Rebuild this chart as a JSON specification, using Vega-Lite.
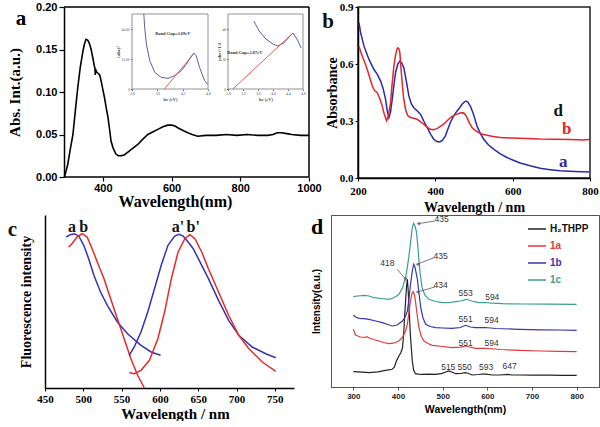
{
  "$schema": "https://vega.github.io/schema/vega-lite/v6.json",
  "padding": {"left": 7, "top": 0, "right": 0, "bottom": 0},
  "background": "white",
  "config": {"axis": {"grid": false, "labelFlush": false, "labelOverlap": false, "domainColor": "black", "tickColor": "black", "labelColor": "black", "titleColor": "black"}},
  "datasets": {
    "a": [
      {"wl":288,"v":0.0},{"wl":291,"v":0.004},{"wl":298,"v":0.015},{"wl":305,"v":0.032},{"wl":313,"v":0.05},{"wl":320,"v":0.078},{"wl":327,"v":0.105},{"wl":334,"v":0.128},{"wl":342,"v":0.148},{"wl":347,"v":0.157},{"wl":351,"v":0.162},{"wl":356,"v":0.161},{"wl":361,"v":0.157},{"wl":366,"v":0.15},{"wl":371,"v":0.14},{"wl":375,"v":0.131},{"wl":377,"v":0.128},{"wl":378,"v":0.12},{"wl":379,"v":0.127},{"wl":381,"v":0.124},{"wl":386,"v":0.122},{"wl":391,"v":0.12},{"wl":395,"v":0.113},{"wl":400,"v":0.103},{"wl":405,"v":0.093},{"wl":410,"v":0.081},{"wl":415,"v":0.07},{"wl":420,"v":0.055},{"wl":424,"v":0.042},{"wl":430,"v":0.034},{"wl":438,"v":0.027},{"wl":445,"v":0.025},{"wl":453,"v":0.025},{"wl":462,"v":0.026},{"wl":472,"v":0.029},{"wl":485,"v":0.033},{"wl":501,"v":0.038},{"wl":515,"v":0.044},{"wl":531,"v":0.05},{"wl":545,"v":0.053},{"wl":560,"v":0.056},{"wl":575,"v":0.059},{"wl":589,"v":0.061},{"wl":600,"v":0.061},{"wl":610,"v":0.06},{"wl":618,"v":0.058},{"wl":632,"v":0.055},{"wl":647,"v":0.052},{"wl":660,"v":0.05},{"wl":676,"v":0.048},{"wl":700,"v":0.049},{"wl":730,"v":0.049},{"wl":760,"v":0.05},{"wl":790,"v":0.049},{"wl":820,"v":0.05},{"wl":850,"v":0.049},{"wl":880,"v":0.049},{"wl":895,"v":0.05},{"wl":908,"v":0.052},{"wl":920,"v":0.052},{"wl":935,"v":0.051},{"wl":950,"v":0.05},{"wl":975,"v":0.049},{"wl":1000,"v":0.049}
    ],
    "alab": [{"t":"a","wl":162,"v":0.1788}],
    "aframe": [
      {"x1":287,"y1":0.2,"x2":1000,"y2":0.2},{"x1":1000,"y1":0,"x2":1000,"y2":0.2},{"x1":287,"y1":0,"x2":1000,"y2":0}
    ],
    "in1c": [
      {"e":3.28,"y":5.0},{"e":3.30,"y":4.11},{"e":3.34,"y":3.0},{"e":3.42,"y":1.89},{"e":3.54,"y":1.11},{"e":3.69,"y":0.78},{"e":3.85,"y":0.71},{"e":4.01,"y":0.89},{"e":4.17,"y":1.22},{"e":4.29,"y":1.67},{"e":4.41,"y":2.22},{"e":4.47,"y":2.38},{"e":4.52,"y":2.22},{"e":4.60,"y":1.44},{"e":4.72,"y":0.56},{"e":4.8,"y":0.29}
    ],
    "in1t": [{"e":3.77,"y":0},{"e":4.47,"y":2.38}],
    "in1f": [{"x1":3.0,"x2":4.8,"y1":0,"y2":5}],
    "in1x": [{"t":"Band Gap=3.69eV","e":3.97,"y":3.67}],
    "in2c": [
      {"e":3.49,"y":45.3},{"e":3.63,"y":38.7},{"e":3.81,"y":33.3},{"e":4.0,"y":30},{"e":4.13,"y":28.7},{"e":4.29,"y":30.7},{"e":4.43,"y":34.7},{"e":4.53,"y":37.3},{"e":4.64,"y":33.3},{"e":4.75,"y":27.3}
    ],
    "in2t": [{"e":2.93,"y":0},{"e":4.53,"y":37.3}],
    "in2f": [{"x1":2.8,"x2":4.8,"y1":0,"y2":50}],
    "in2x": [{"t":"Band Gap=2.87eV","e":3.25,"y":24}],
    "b": [
      {"s":"a","wl":202.6,"v":0.816},{"s":"a","wl":206.9,"v":0.764},{"s":"a","wl":215.5,"v":0.694},{"s":"a","wl":228.4,"v":0.624},{"s":"a","wl":241.3,"v":0.571},{"s":"a","wl":250,"v":0.545},{"s":"a","wl":258.5,"v":0.51},{"s":"a","wl":265,"v":0.47},{"s":"a","wl":271.3,"v":0.414},{"s":"a","wl":276,"v":0.35},{"s":"a","wl":279.9,"v":0.318},{"s":"a","wl":284,"v":0.345},{"s":"a","wl":288.5,"v":0.414},{"s":"a","wl":293,"v":0.49},{"s":"a","wl":297.1,"v":0.554},{"s":"a","wl":303,"v":0.6},{"s":"a","wl":308.3,"v":0.615},{"s":"a","wl":313,"v":0.605},{"s":"a","wl":318.6,"v":0.58},{"s":"a","wl":325,"v":0.51},{"s":"a","wl":331.5,"v":0.432},{"s":"a","wl":338,"v":0.39},{"s":"a","wl":344.4,"v":0.37},{"s":"a","wl":352,"v":0.355},{"s":"a","wl":361.6,"v":0.336},{"s":"a","wl":370,"v":0.3},{"s":"a","wl":378.8,"v":0.266},{"s":"a","wl":388,"v":0.23},{"s":"a","wl":396,"v":0.204},{"s":"a","wl":404,"v":0.192},{"s":"a","wl":411.5,"v":0.19},{"s":"a","wl":418,"v":0.198},{"s":"a","wl":426.1,"v":0.222},{"s":"a","wl":432,"v":0.255},{"s":"a","wl":439,"v":0.292},{"s":"a","wl":447,"v":0.325},{"s":"a","wl":456.2,"v":0.353},{"s":"a","wl":463,"v":0.37},{"s":"a","wl":469.1,"v":0.388},{"s":"a","wl":475,"v":0.4},{"s":"a","wl":479.4,"v":0.405},{"s":"a","wl":484,"v":0.4},{"s":"a","wl":490.5,"v":0.379},{"s":"a","wl":498,"v":0.34},{"s":"a","wl":507.7,"v":0.274},{"s":"a","wl":515,"v":0.24},{"s":"a","wl":525,"v":0.204},{"s":"a","wl":537,"v":0.175},{"s":"a","wl":550.7,"v":0.152},{"s":"a","wl":567,"v":0.128},{"s":"a","wl":585.1,"v":0.108},{"s":"a","wl":600,"v":0.095},{"s":"a","wl":619.5,"v":0.079},{"s":"a","wl":645,"v":0.064},{"s":"a","wl":671.1,"v":0.051},{"s":"a","wl":697,"v":0.044},{"s":"a","wl":722.6,"v":0.038},{"s":"a","wl":760,"v":0.034},{"s":"a","wl":798,"v":0.031},
      {"s":"b","wl":202.6,"v":0.694},{"s":"b","wl":206.9,"v":0.665},{"s":"b","wl":211.2,"v":0.641},{"s":"b","wl":218,"v":0.605},{"s":"b","wl":224.1,"v":0.571},{"s":"b","wl":230,"v":0.53},{"s":"b","wl":237,"v":0.484},{"s":"b","wl":243,"v":0.46},{"s":"b","wl":249.8,"v":0.449},{"s":"b","wl":256,"v":0.42},{"s":"b","wl":262.7,"v":0.379},{"s":"b","wl":268,"v":0.335},{"s":"b","wl":273.9,"v":0.301},{"s":"b","wl":279,"v":0.33},{"s":"b","wl":284.2,"v":0.397},{"s":"b","wl":288,"v":0.49},{"s":"b","wl":292.8,"v":0.589},{"s":"b","wl":297,"v":0.645},{"s":"b","wl":301,"v":0.68},{"s":"b","wl":303.2,"v":0.685},{"s":"b","wl":306,"v":0.68},{"s":"b","wl":308.3,"v":0.66},{"s":"b","wl":311,"v":0.58},{"s":"b","wl":314.3,"v":0.502},{"s":"b","wl":318,"v":0.42},{"s":"b","wl":322.9,"v":0.362},{"s":"b","wl":328,"v":0.33},{"s":"b","wl":335.8,"v":0.318},{"s":"b","wl":344,"v":0.314},{"s":"b","wl":353,"v":0.309},{"s":"b","wl":361,"v":0.297},{"s":"b","wl":370.2,"v":0.283},{"s":"b","wl":378,"v":0.268},{"s":"b","wl":387.4,"v":0.257},{"s":"b","wl":395,"v":0.254},{"s":"b","wl":404.6,"v":0.26},{"s":"b","wl":412,"v":0.27},{"s":"b","wl":421.8,"v":0.283},{"s":"b","wl":430,"v":0.3},{"s":"b","wl":439,"v":0.318},{"s":"b","wl":447,"v":0.328},{"s":"b","wl":456.2,"v":0.336},{"s":"b","wl":464,"v":0.342},{"s":"b","wl":471.6,"v":0.344},{"s":"b","wl":477,"v":0.335},{"s":"b","wl":482,"v":0.318},{"s":"b","wl":488,"v":0.29},{"s":"b","wl":494.8,"v":0.266},{"s":"b","wl":503,"v":0.25},{"s":"b","wl":512,"v":0.239},{"s":"b","wl":522,"v":0.23},{"s":"b","wl":533.5,"v":0.225},{"s":"b","wl":550,"v":0.218},{"s":"b","wl":567.8,"v":0.213},{"s":"b","wl":600,"v":0.21},{"s":"b","wl":636.7,"v":0.208},{"s":"b","wl":670,"v":0.205},{"s":"b","wl":705.4,"v":0.204},{"s":"b","wl":750,"v":0.203},{"s":"b","wl":780,"v":0.2},{"s":"b","wl":798,"v":0.203}
    ],
    "blab": [
      {"s":"d","t":"d","wl":718,"v":0.353},{"s":"b","t":"b","wl":740,"v":0.257},{"s":"a","t":"a","wl":731,"v":0.082},{"s":"d","t":"b","wl":122.4,"v":0.821,"panel":true}
    ],
    "c": [
      {"s":"a","wl":477.7,"v":151},{"s":"a","wl":483,"v":153.3},{"s":"a","wl":488.3,"v":154.3},{"s":"a","wl":494,"v":152},{"s":"a","wl":500.6,"v":142.7},{"s":"a","wl":507,"v":129.3},{"s":"a","wl":513.8,"v":112.7},{"s":"a","wl":522.5,"v":96},{"s":"a","wl":531.3,"v":82.7},{"s":"a","wl":544.5,"v":66},{"s":"a","wl":557.7,"v":54.3},{"s":"a","wl":575.3,"v":42.7},{"s":"a","wl":588.5,"v":36},{"s":"a","wl":600.8,"v":32.7},
      {"s":"b","wl":480.8,"v":141},{"s":"b","wl":485.2,"v":144.3},{"s":"b","wl":491.8,"v":151},{"s":"b","wl":498.4,"v":154.3},{"s":"b","wl":505,"v":151},{"s":"b","wl":511.6,"v":139.3},{"s":"b","wl":518.2,"v":126},{"s":"b","wl":527,"v":109.3},{"s":"b","wl":535.7,"v":89.3},{"s":"b","wl":544.5,"v":69.3},{"s":"b","wl":553.3,"v":49.3},{"s":"b","wl":562.1,"v":29.3},{"s":"b","wl":570.9,"v":12.7},{"s":"b","wl":579.7,"v":0},
      {"s":"a'","wl":559.9,"v":32.7},{"s":"a'","wl":566.5,"v":41},{"s":"a'","wl":575.3,"v":56},{"s":"a'","wl":584.1,"v":76},{"s":"a'","wl":592.9,"v":99.3},{"s":"a'","wl":601.7,"v":122.7},{"s":"a'","wl":610.5,"v":142.7},{"s":"a'","wl":619.3,"v":152},{"s":"a'","wl":625,"v":153.7},{"s":"a'","wl":630.3,"v":152},{"s":"a'","wl":636.9,"v":146},{"s":"a'","wl":643.5,"v":139.3},{"s":"a'","wl":650.1,"v":129.3},{"s":"a'","wl":663.3,"v":109.3},{"s":"a'","wl":676.5,"v":87.7},{"s":"a'","wl":689.7,"v":67.7},{"s":"a'","wl":702.9,"v":52.7},{"s":"a'","wl":720.5,"v":41},{"s":"a'","wl":738.1,"v":34.3},{"s":"a'","wl":751.2,"v":30.3},
      {"s":"b'","wl":559.9,"v":15.3},{"s":"b'","wl":566.5,"v":14.3},{"s":"b'","wl":575.3,"v":17.7},{"s":"b'","wl":586.3,"v":27.7},{"s":"b'","wl":597.3,"v":49.3},{"s":"b'","wl":606.1,"v":76},{"s":"b'","wl":614.9,"v":109.3},{"s":"b'","wl":623.7,"v":136},{"s":"b'","wl":632.5,"v":149.3},{"s":"b'","wl":639.1,"v":153.3},{"s":"b'","wl":645.7,"v":149.3},{"s":"b'","wl":654.5,"v":136},{"s":"b'","wl":663.3,"v":119.3},{"s":"b'","wl":676.5,"v":96},{"s":"b'","wl":689.7,"v":72.7},{"s":"b'","wl":702.9,"v":52.7},{"s":"b'","wl":716.1,"v":39.3},{"s":"b'","wl":733.7,"v":26},{"s":"b'","wl":751.2,"v":16.7}
    ],
    "clab": [
      {"t":"a","wl":485.2,"v":161,"sz":"m"},{"t":"b","wl":500.6,"v":161,"sz":"m"},{"t":"a'","wl":623.7,"v":161,"sz":"m"},{"t":"b'","wl":643.5,"v":161,"sz":"m"},{"t":"c","wl":407.6,"v":158,"sz":"L"}
    ],
    "d": [
      {"s":"H₂THPP","wl":300,"v":15.3},{"s":"H₂THPP","wl":320,"v":14.8},{"s":"H₂THPP","wl":335,"v":14.3},{"s":"H₂THPP","wl":355,"v":15.2},{"s":"H₂THPP","wl":372,"v":16.7},{"s":"H₂THPP","wl":387,"v":17.7},{"s":"H₂THPP","wl":392,"v":20},{"s":"H₂THPP","wl":396,"v":25.5},{"s":"H₂THPP","wl":402,"v":31},{"s":"H₂THPP","wl":406,"v":34},{"s":"H₂THPP","wl":410,"v":39},{"s":"H₂THPP","wl":413,"v":55},{"s":"H₂THPP","wl":415,"v":72},{"s":"H₂THPP","wl":417,"v":86},{"s":"H₂THPP","wl":419,"v":100},{"s":"H₂THPP","wl":421,"v":107.7},{"s":"H₂THPP","wl":423,"v":95},{"s":"H₂THPP","wl":425,"v":76},{"s":"H₂THPP","wl":428,"v":50},{"s":"H₂THPP","wl":432,"v":26},{"s":"H₂THPP","wl":435,"v":17},{"s":"H₂THPP","wl":439,"v":13.3},{"s":"H₂THPP","wl":446,"v":12.8},{"s":"H₂THPP","wl":454,"v":12.7},{"s":"H₂THPP","wl":470,"v":12.8},{"s":"H₂THPP","wl":484,"v":12.7},{"s":"H₂THPP","wl":499,"v":13.7},{"s":"H₂THPP","wl":507,"v":15},{"s":"H₂THPP","wl":514,"v":16},{"s":"H₂THPP","wl":520,"v":15},{"s":"H₂THPP","wl":529,"v":13.3},{"s":"H₂THPP","wl":540,"v":13.5},{"s":"H₂THPP","wl":551,"v":14.3},{"s":"H₂THPP","wl":558,"v":13.5},{"s":"H₂THPP","wl":566,"v":12},{"s":"H₂THPP","wl":580,"v":12.5},{"s":"H₂THPP","wl":589,"v":13},{"s":"H₂THPP","wl":597,"v":12.8},{"s":"H₂THPP","wl":611,"v":12},{"s":"H₂THPP","wl":630,"v":12},{"s":"H₂THPP","wl":645,"v":12.7},{"s":"H₂THPP","wl":655,"v":12},{"s":"H₂THPP","wl":671,"v":12},{"s":"H₂THPP","wl":700,"v":11.8},{"s":"H₂THPP","wl":740,"v":11.8},{"s":"H₂THPP","wl":770,"v":11.7},{"s":"H₂THPP","wl":800,"v":11.7},
      {"s":"1a","wl":300,"v":57.7},{"s":"1a","wl":305,"v":52},{"s":"1a","wl":310,"v":51},{"s":"1a","wl":316,"v":50},{"s":"1a","wl":325,"v":49.5},{"s":"1a","wl":330,"v":50.3},{"s":"1a","wl":335,"v":49.3},{"s":"1a","wl":345,"v":47.5},{"s":"1a","wl":357,"v":46},{"s":"1a","wl":368,"v":44.5},{"s":"1a","wl":380,"v":43.3},{"s":"1a","wl":390,"v":43.8},{"s":"1a","wl":402,"v":46},{"s":"1a","wl":410,"v":49.5},{"s":"1a","wl":417,"v":56},{"s":"1a","wl":421,"v":63},{"s":"1a","wl":425,"v":76},{"s":"1a","wl":428,"v":86},{"s":"1a","wl":431,"v":93},{"s":"1a","wl":434,"v":95.3},{"s":"1a","wl":437,"v":92},{"s":"1a","wl":439,"v":86},{"s":"1a","wl":443,"v":72},{"s":"1a","wl":447,"v":59},{"s":"1a","wl":452,"v":51},{"s":"1a","wl":458,"v":46},{"s":"1a","wl":467,"v":43.5},{"s":"1a","wl":477,"v":41.7},{"s":"1a","wl":500,"v":40.5},{"s":"1a","wl":521,"v":39.3},{"s":"1a","wl":540,"v":39.8},{"s":"1a","wl":551,"v":41},{"s":"1a","wl":560,"v":40},{"s":"1a","wl":574,"v":38.7},{"s":"1a","wl":594,"v":38.7},{"s":"1a","wl":604,"v":38.5},{"s":"1a","wl":630,"v":37.5},{"s":"1a","wl":671,"v":36.7},{"s":"1a","wl":720,"v":36},{"s":"1a","wl":760,"v":35.6},{"s":"1a","wl":800,"v":35.3},
      {"s":"1b","wl":300,"v":71.7},{"s":"1b","wl":306,"v":69.8},{"s":"1b","wl":313,"v":68.7},{"s":"1b","wl":324,"v":68.3},{"s":"1b","wl":335,"v":67.7},{"s":"1b","wl":350,"v":66},{"s":"1b","wl":365,"v":64.3},{"s":"1b","wl":377,"v":62.5},{"s":"1b","wl":387,"v":61},{"s":"1b","wl":398,"v":62},{"s":"1b","wl":410,"v":66},{"s":"1b","wl":416,"v":70},{"s":"1b","wl":421,"v":76},{"s":"1b","wl":425,"v":90},{"s":"1b","wl":428,"v":102.7},{"s":"1b","wl":432,"v":116},{"s":"1b","wl":435,"v":122.7},{"s":"1b","wl":438,"v":120},{"s":"1b","wl":441,"v":113},{"s":"1b","wl":443,"v":109},{"s":"1b","wl":447,"v":94},{"s":"1b","wl":451,"v":79},{"s":"1b","wl":456,"v":69},{"s":"1b","wl":462,"v":62.7},{"s":"1b","wl":472,"v":60.5},{"s":"1b","wl":484,"v":59.3},{"s":"1b","wl":500,"v":59},{"s":"1b","wl":521,"v":58.7},{"s":"1b","wl":540,"v":59.5},{"s":"1b","wl":551,"v":61.7},{"s":"1b","wl":562,"v":60},{"s":"1b","wl":574,"v":59.3},{"s":"1b","wl":594,"v":59.5},{"s":"1b","wl":620,"v":58.5},{"s":"1b","wl":671,"v":57.7},{"s":"1b","wl":720,"v":57.2},{"s":"1b","wl":760,"v":57},{"s":"1b","wl":800,"v":56.7},
      {"s":"1c","wl":300,"v":90.3},{"s":"1c","wl":310,"v":91},{"s":"1c","wl":324,"v":91.7},{"s":"1c","wl":335,"v":91},{"s":"1c","wl":346,"v":89.3},{"s":"1c","wl":362,"v":88.5},{"s":"1c","wl":380,"v":87.7},{"s":"1c","wl":392,"v":89.5},{"s":"1c","wl":402,"v":92.7},{"s":"1c","wl":410,"v":99},{"s":"1c","wl":417,"v":109.3},{"s":"1c","wl":421,"v":120},{"s":"1c","wl":425,"v":132.7},{"s":"1c","wl":429,"v":148},{"s":"1c","wl":432,"v":159.3},{"s":"1c","wl":435,"v":163.7},{"s":"1c","wl":438,"v":161},{"s":"1c","wl":441,"v":156},{"s":"1c","wl":444,"v":143},{"s":"1c","wl":447,"v":126},{"s":"1c","wl":450,"v":112},{"s":"1c","wl":454,"v":99.3},{"s":"1c","wl":460,"v":92},{"s":"1c","wl":469,"v":87.7},{"s":"1c","wl":484,"v":85.5},{"s":"1c","wl":499,"v":84.3},{"s":"1c","wl":515,"v":84.5},{"s":"1c","wl":529,"v":85.3},{"s":"1c","wl":540,"v":86},{"s":"1c","wl":553,"v":87.7},{"s":"1c","wl":565,"v":86},{"s":"1c","wl":581,"v":84.3},{"s":"1c","wl":594,"v":84.5},{"s":"1c","wl":610,"v":83.8},{"s":"1c","wl":634,"v":83.3},{"s":"1c","wl":680,"v":83},{"s":"1c","wl":740,"v":82.8},{"s":"1c","wl":800,"v":82.7}
    ],
    "dlab": [
      {"t":"435","wl":497.6,"v":167.7},{"t":"435","wl":495.4,"v":131},{"t":"434","wl":495.4,"v":102},{"t":"418","wl":376,"v":124.3},
      {"t":"553","wl":551.3,"v":94.3},{"t":"594","wl":611,"v":90},{"t":"551","wl":551.3,"v":67.7},{"t":"594","wl":609.5,"v":66.7},{"t":"551","wl":551.3,"v":43.7},{"t":"594","wl":609.5,"v":44.3},
      {"t":"515","wl":512.5,"v":20.3},{"t":"550","wl":549,"v":20.3},{"t":"593","wl":597.5,"v":20.3},{"t":"647","wl":649.7,"v":21.3}
    ],
    "dletter": [{"t":"d","wl":218.7,"v":153}],
    "darrL": [
      {"x1":482.7,"y1":166,"x2":445.4,"y2":163.3},{"x1":480.5,"y1":129.3,"x2":443.2,"y2":122.7},{"x1":482.7,"y1":100,"x2":443.2,"y2":95}
    ],
    "darrD": [
      {"x1":398.4,"y1":117.7,"x2":417.1,"y2":107.7}
    ]
  },
  "spacing": -2,
  "resolve": {"scale": {"color": "independent"}, "legend": {"color": "independent"}},
  "vconcat": [
    {
      "spacing": -1,
      "resolve": {"scale": {"color": "independent"}, "legend": {"color": "independent"}},
      "hconcat": [
        {
          "width": 264, "height": 170,
          "view": {"stroke": null},
          "resolve": {"scale": {"x": "independent", "y": "independent"}, "axis": {"x": "independent", "y": "independent"}},
          "layer": [
            {
              "layer": [
                {
                  "data": {"name": "a"},
                  "mark": {"type": "line", "color": "black", "strokeWidth": 1.6},
                  "encoding": {
                    "x": {"field": "wl", "type": "quantitative", "scale": {"domain": [231.7, 1000], "nice": false, "zero": false},
                      "axis": {"orient": "bottom", "values": [400, 600, 800, 1000], "format": "d", "domain": false, "title": "Wavelength(nm)", "titleFont": "Liberation Serif", "titleFontSize": 16, "titleFontWeight": "bold", "labelFont": "Liberation Sans", "labelFontSize": 11, "labelFontWeight": "bold", "tickSize": 4, "labelPadding": 1, "titlePadding": 0, "titleX": 130, "tickWidth": 1.2}},
                    "y": {"field": "v", "type": "quantitative", "scale": {"domain": [0, 0.2], "nice": false},
                      "axis": {"orient": "left", "offset": -19, "values": [0, 0.05, 0.1, 0.15, 0.2], "format": ".2f", "title": "Abs. Int.(a.u.)", "titleFont": "Liberation Serif", "titleFontSize": 15, "titleFontWeight": "bold", "labelFont": "Liberation Sans", "labelFontSize": 11, "labelFontWeight": "bold", "tickSize": 5, "labelPadding": 2, "titlePadding": 13, "domainWidth": 1.5, "tickWidth": 1.2}}
                  }
                },
                {
                  "data": {"name": "aframe"},
                  "mark": {"type": "rule", "color": "black", "strokeWidth": 1.5},
                  "encoding": {
                    "x": {"field": "x1", "type": "quantitative"},
                    "y": {"field": "y1", "type": "quantitative"},
                    "x2": {"field": "x2"},
                    "y2": {"field": "y2"}
                  }
                },
                {
                  "data": {"name": "alab"},
                  "mark": {"type": "text", "font": "Liberation Serif", "fontSize": 21, "fontWeight": "bold", "baseline": "alphabetic", "align": "center", "color": "black"},
                  "encoding": {
                    "x": {"field": "wl", "type": "quantitative"},
                    "y": {"field": "v", "type": "quantitative"},
                    "text": {"field": "t"}
                  }
                }
              ]
            },
            {
              "layer": [
                {
                  "data": {"name": "in1c"},
                  "mark": {"type": "line", "color": "#4a4aa0", "strokeWidth": 0.9},
                  "encoding": {
                    "x": {"field": "e", "type": "quantitative", "scale": {"domain": [3.0, 4.8], "range": [87, 163], "nice": false, "zero": false},
                      "axis": {"orient": "bottom", "offset": -88, "values": [3.0, 3.6, 4.2, 4.8], "format": ".1f", "domain": false, "title": "hν (eV)", "titleFont": "Liberation Serif", "titleFontSize": 4.5, "titlePadding": 1, "labelFont": "Liberation Serif", "labelFontSize": 3.5, "labelPadding": 1, "tickSize": 1.5, "tickColor": "#666", "labelColor": "#444", "titleColor": "#444"}},
                    "y": {"field": "y", "type": "quantitative", "scale": {"domain": [0, 5], "range": [82, 7], "nice": false, "zero": false},
                      "axis": {"orient": "left", "offset": -87, "values": [0, 1, 2, 3, 4, 5], "labelExpr": "datum.value == 0 ? '0' : datum.value + 'x10⁵'", "domain": false, "title": "(αhν)²", "titleFont": "Liberation Serif", "titleFontSize": 4.5, "titlePadding": 1, "labelFont": "Liberation Serif", "labelFontSize": 3.5, "labelPadding": 1, "tickSize": 1.5, "tickColor": "#666", "labelColor": "#444", "titleColor": "#444"}}
                  }
                },
                {
                  "data": {"name": "in1t"},
                  "mark": {"type": "line", "color": "#d94c4c", "strokeWidth": 0.9},
                  "encoding": {
                    "x": {"field": "e", "type": "quantitative"},
                    "y": {"field": "y", "type": "quantitative"}
                  }
                },
                {
                  "data": {"name": "in1f"},
                  "mark": {"type": "rect", "fillOpacity": 0, "stroke": "#777", "strokeWidth": 0.8},
                  "encoding": {
                    "x": {"field": "x1", "type": "quantitative"},
                    "x2": {"field": "x2"},
                    "y": {"field": "y1", "type": "quantitative"},
                    "y2": {"field": "y2"}
                  }
                },
                {
                  "data": {"name": "in1x"},
                  "mark": {"type": "text", "font": "Liberation Serif", "fontSize": 4.5, "fontWeight": "bold", "color": "#333", "align": "center", "baseline": "middle"},
                  "encoding": {
                    "x": {"field": "e", "type": "quantitative"},
                    "y": {"field": "y", "type": "quantitative"},
                    "text": {"field": "t"}
                  }
                }
              ]
            },
            {
              "layer": [
                {
                  "data": {"name": "in2c"},
                  "mark": {"type": "line", "color": "#4a4aa0", "strokeWidth": 0.9},
                  "encoding": {
                    "x": {"field": "e", "type": "quantitative", "scale": {"domain": [2.8, 4.8], "range": [183, 258], "nice": false, "zero": false},
                      "axis": {"orient": "bottom", "offset": -88, "values": [2.8, 3.2, 3.6, 4.0, 4.4, 4.8], "format": ".1f", "domain": false, "title": "hν (eV)", "titleFont": "Liberation Serif", "titleFontSize": 4.5, "titlePadding": 1, "labelFont": "Liberation Serif", "labelFontSize": 3.5, "labelPadding": 1, "tickSize": 1.5, "tickColor": "#666", "labelColor": "#444", "titleColor": "#444"}},
                    "y": {"field": "y", "type": "quantitative", "scale": {"domain": [0, 50], "range": [82, 7], "nice": false, "zero": false},
                      "axis": {"orient": "left", "offset": -183, "values": [0, 10, 20, 30, 40, 50], "domain": false, "title": "(αhν)^1/2", "titleFont": "Liberation Serif", "titleFontSize": 4.5, "titlePadding": 1, "labelFont": "Liberation Serif", "labelFontSize": 3.5, "labelPadding": 1, "tickSize": 1.5, "tickColor": "#666", "labelColor": "#444", "titleColor": "#444"}}
                  }
                },
                {
                  "data": {"name": "in2t"},
                  "mark": {"type": "line", "color": "#d94c4c", "strokeWidth": 0.9},
                  "encoding": {
                    "x": {"field": "e", "type": "quantitative"},
                    "y": {"field": "y", "type": "quantitative"}
                  }
                },
                {
                  "data": {"name": "in2f"},
                  "mark": {"type": "rect", "fillOpacity": 0, "stroke": "#777", "strokeWidth": 0.8},
                  "encoding": {
                    "x": {"field": "x1", "type": "quantitative"},
                    "x2": {"field": "x2"},
                    "y": {"field": "y1", "type": "quantitative"},
                    "y2": {"field": "y2"}
                  }
                },
                {
                  "data": {"name": "in2x"},
                  "mark": {"type": "text", "font": "Liberation Serif", "fontSize": 4.5, "fontWeight": "bold", "color": "#333", "align": "center", "baseline": "middle"},
                  "encoding": {
                    "x": {"field": "e", "type": "quantitative"},
                    "y": {"field": "y", "type": "quantitative"},
                    "text": {"field": "t"}
                  }
                }
              ]
            }
          ]
        },
        {
          "width": 232, "height": 171,
          "view": {"stroke": "#222", "strokeWidth": 1.5},
          "layer": [
            {
              "data": {"name": "b"},
              "mark": {"type": "line", "strokeWidth": 1.5},
              "encoding": {
                "x": {"field": "wl", "type": "quantitative", "scale": {"domain": [200, 800], "nice": false, "zero": false},
                  "axis": {"values": [200, 300, 400, 500, 600, 700, 800], "labelExpr": "datum.value % 200 == 0 ? datum.label : ''", "title": "Wavelength / nm", "titleFont": "Liberation Serif", "titleFontSize": 14, "titleFontWeight": "bold", "labelFont": "Liberation Serif", "labelFontSize": 11, "labelFontWeight": "bold", "tickSize": 3, "labelPadding": 4, "titlePadding": 4, "domainWidth": 1.5}},
                "y": {"field": "v", "type": "quantitative", "scale": {"domain": [0, 0.9], "nice": false},
                  "axis": {"values": [0, 0.3, 0.6, 0.9], "format": ".1f", "title": "Absorbance", "titleFont": "Liberation Serif", "titleFontSize": 14, "titleFontWeight": "bold", "labelFont": "Liberation Serif", "labelFontSize": 11, "labelFontWeight": "bold", "tickSize": 3, "labelPadding": 2, "titlePadding": 0, "domainWidth": 1.5}},
                "color": {"field": "s", "type": "nominal", "scale": {"domain": ["a", "b", "d"], "range": ["#2a2aaa", "#e3262b", "#111111"]}, "legend": null},
                "detail": {"field": "s"}
              }
            },
            {
              "data": {"name": "blab"},
              "mark": {"type": "text", "font": "Liberation Serif", "fontWeight": "bold", "baseline": "middle", "align": "center"},
              "encoding": {
                "x": {"field": "wl", "type": "quantitative"},
                "y": {"field": "v", "type": "quantitative"},
                "text": {"field": "t"},
                "size": {"condition": {"test": "datum.panel", "value": 21}, "value": 17},
                "color": {"field": "s", "type": "nominal", "scale": {"domain": ["a", "b", "d"], "range": ["#2a2aaa", "#e3262b", "#111111"]}, "legend": null}
              }
            }
          ]
        }
      ]
    },
    {
      "spacing": 16,
      "resolve": {"scale": {"color": "independent"}, "legend": {"color": "independent"}},
      "hconcat": [
        {
          "width": 249, "height": 173,
          "view": {"stroke": null},
          "layer": [
            {
              "data": {"name": "c"},
              "mark": {"type": "line", "strokeWidth": 1.5},
              "encoding": {
                "x": {"field": "wl", "type": "quantitative", "scale": {"domain": [450, 775], "nice": false, "zero": false},
                  "axis": {"values": [450, 475, 500, 525, 550, 575, 600, 625, 650, 675, 700, 725, 750, 775], "labelExpr": "datum.value % 50 == 0 ? datum.label : ''", "title": "Wavelength / nm", "titleFont": "Liberation Serif", "titleFontSize": 15, "titleFontWeight": "bold", "labelFont": "Liberation Serif", "labelFontSize": 11, "labelFontWeight": "bold", "tickSize": 3, "labelPadding": 2, "titlePadding": 2, "domainWidth": 1.5, "titleX": 130}},
                "y": {"field": "v", "type": "quantitative", "scale": {"domain": [0, 173], "nice": false},
                  "axis": {"labels": false, "ticks": false, "title": "Fluorescence intensity", "titleFont": "Liberation Serif", "titleFontSize": 14, "titleFontWeight": "bold", "titlePadding": 12, "domainWidth": 1.5}},
                "color": {"field": "s", "type": "nominal", "scale": {"domain": ["a", "b", "a'", "b'"], "range": ["#3434b2", "#e62a2a", "#3434b2", "#e62a2a"]}, "legend": null},
                "detail": {"field": "s"}
              }
            },
            {
              "data": {"name": "clab"},
              "mark": {"type": "text", "font": "Liberation Serif", "fontWeight": "bold", "baseline": "middle", "align": "center", "color": "#111"},
              "encoding": {
                "x": {"field": "wl", "type": "quantitative"},
                "y": {"field": "v", "type": "quantitative"},
                "text": {"field": "t"},
                "size": {"condition": {"test": "datum.sz == 'L'", "value": 21}, "value": 16}
              }
            }
          ]
        },
        {
          "width": 268, "height": 172,
          "view": {"stroke": "#555", "strokeWidth": 1},
          "layer": [
            {
              "data": {"name": "d"},
              "mark": {"type": "line", "strokeWidth": 1.2},
              "encoding": {
                "x": {"field": "wl", "type": "quantitative", "scale": {"domain": [250, 850], "nice": false, "zero": false},
                  "axis": {"values": [300, 400, 500, 600, 700, 800], "title": "Wavelength(nm)", "titleFont": "Liberation Sans", "titleFontSize": 10.5, "titleFontWeight": "bold", "labelFont": "Liberation Sans", "labelFontSize": 8, "labelFontWeight": "bold", "labelColor": "#222", "tickSize": 3, "labelPadding": 2, "titlePadding": 4, "domainColor": "#555", "tickColor": "#555"}},
                "y": {"field": "v", "type": "quantitative", "scale": {"domain": [0, 172], "nice": false},
                  "axis": {"labels": false, "ticks": false, "title": "Intensity(a.u.)", "titleFont": "Liberation Sans", "titleFontSize": 10, "titleFontWeight": "bold", "titlePadding": 10, "domainColor": "#555"}},
                "color": {"field": "s", "type": "nominal", "scale": {"domain": ["H₂THPP", "1a", "1b", "1c"], "range": ["#222222", "#e0393b", "#3535b5", "#3a9e8f"]},
                  "legend": {"orient": "none", "legendX": 196, "legendY": 4, "title": null, "symbolType": "stroke", "symbolSize": 324, "symbolStrokeWidth": 1.5, "labelFont": "Liberation Sans", "labelFontSize": 10, "labelFontWeight": "bold", "rowPadding": 2, "labelOffset": 3,
                    "labelColor": {"expr": "datum.value == '1a' ? '#e0393b' : datum.value == '1b' ? '#3535b5' : datum.value == '1c' ? '#3a9e8f' : '#111111'"}}},
                "detail": {"field": "s"}
              }
            },
            {
              "data": {"name": "dlab"},
              "mark": {"type": "text", "font": "Liberation Sans", "fontSize": 8.5, "baseline": "middle", "align": "center", "color": "#333"},
              "encoding": {
                "x": {"field": "wl", "type": "quantitative"},
                "y": {"field": "v", "type": "quantitative"},
                "text": {"field": "t"}
              }
            },
            {
              "data": {"name": "dletter"},
              "mark": {"type": "text", "font": "Liberation Serif", "fontSize": 22, "fontWeight": "bold", "baseline": "alphabetic", "align": "center", "color": "black"},
              "encoding": {
                "x": {"field": "wl", "type": "quantitative"},
                "y": {"field": "v", "type": "quantitative"},
                "text": {"field": "t"}
              }
            },
            {
              "data": {"name": "darrL"},
              "mark": {"type": "rule", "color": "#555", "strokeWidth": 0.8},
              "encoding": {
                "x": {"field": "x1", "type": "quantitative"},
                "y": {"field": "y1", "type": "quantitative"},
                "x2": {"field": "x2"},
                "y2": {"field": "y2"}
              }
            },
            {
              "data": {"name": "darrD"},
              "mark": {"type": "rule", "color": "#555", "strokeWidth": 0.8},
              "encoding": {
                "x": {"field": "x1", "type": "quantitative"},
                "y": {"field": "y1", "type": "quantitative"},
                "x2": {"field": "x2"},
                "y2": {"field": "y2"}
              }
            },
            {
              "data": {"name": "darrL"},
              "mark": {"type": "point", "shape": "triangle-left", "filled": true, "color": "#555", "size": 18},
              "encoding": {
                "x": {"field": "x2", "type": "quantitative"},
                "y": {"field": "y2", "type": "quantitative"}
              }
            },
            {
              "data": {"name": "darrD"},
              "mark": {"type": "point", "shape": "triangle-down", "filled": true, "color": "#555", "size": 18},
              "encoding": {
                "x": {"field": "x2", "type": "quantitative"},
                "y": {"field": "y2", "type": "quantitative"}
              }
            }
          ]
        }
      ]
    }
  ]
}
